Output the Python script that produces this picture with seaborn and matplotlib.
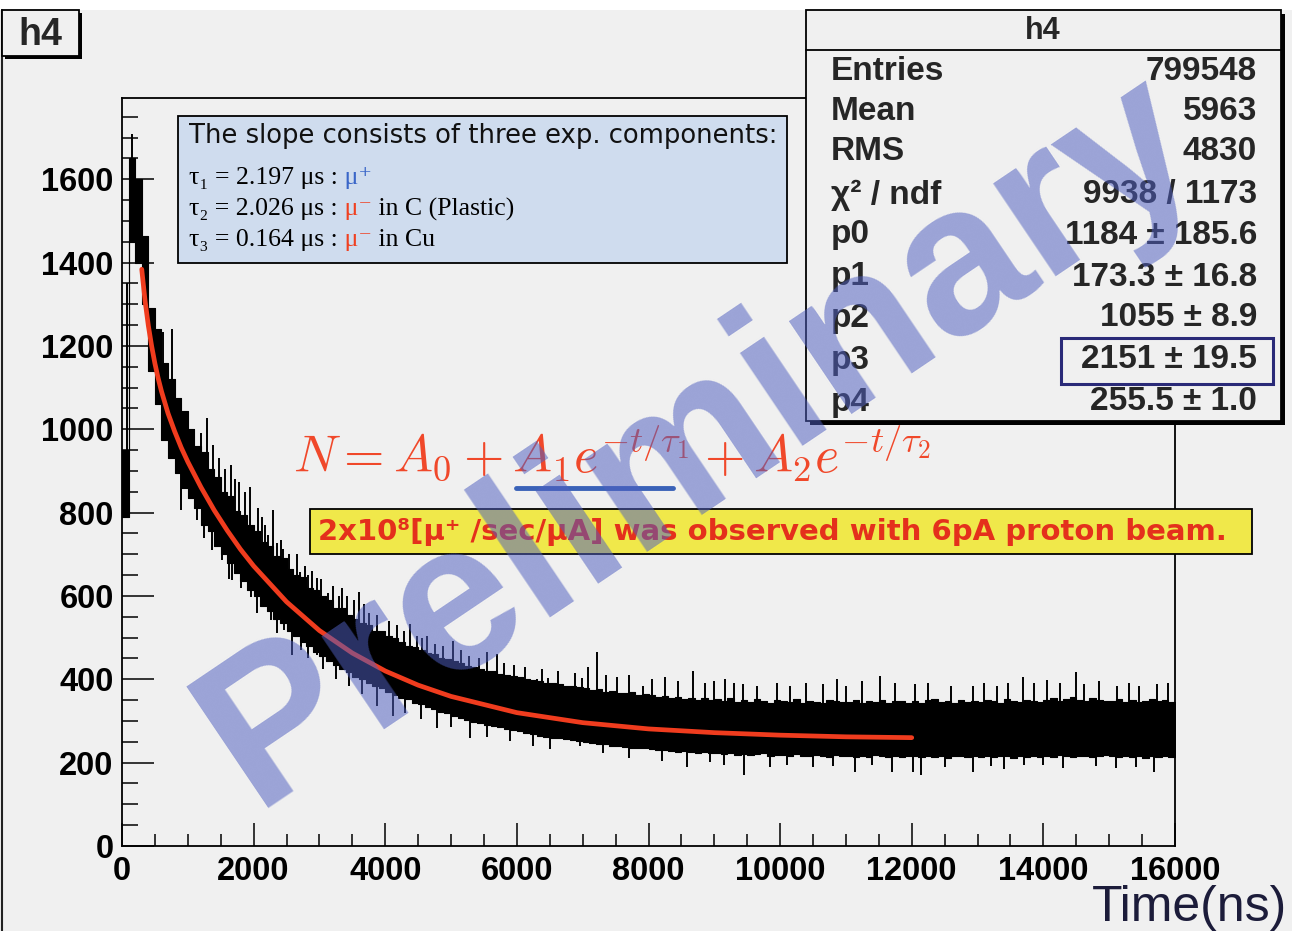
import numpy as np
import pandas as pd
import matplotlib
matplotlib.use("Agg")
import matplotlib.pyplot as plt
import seaborn as sns
from matplotlib.patches import Rectangle
from matplotlib.lines import Line2D
from matplotlib.ticker import MultipleLocator

W, H = 1292, 931

# ------------------------------------------------------------------ data
bin_width = 100  # ns, envelope resolution

core_hi = [
    950, 1650, 1600, 1465, 1290, 1240, 1160, 1120, 1075, 1045,
    1000, 960, 945, 905, 885, 850, 840, 805, 795, 770,
    755, 730, 720, 695, 690, 665, 650, 645, 620, 615,
    600, 590, 570, 570, 555, 545, 535, 530, 515, 515,
    505, 500, 490, 480, 478, 470, 462, 460, 452, 448,
    445, 440, 432, 430, 425, 420, 420, 412, 410, 408,
    405, 400, 398, 395, 392, 392, 388, 385, 385, 382,
    380, 375, 377, 370, 372, 368, 366, 370, 362, 365,
    362, 358, 360, 355, 357, 352, 356, 350, 354, 350,
    352, 348, 355, 346, 350, 345, 352, 347, 344, 350,
    348, 345, 352, 344, 349, 346, 342, 350, 347, 345,
    346, 350, 343, 348, 345, 351, 344, 347, 349, 343,
    347, 344, 350, 352, 345, 348, 343, 351, 346, 349,
    345, 350, 347, 344, 352, 348, 346, 351, 349, 345,
    350, 355, 348, 353, 357, 351, 349, 354, 350, 347,
    348, 352, 346, 350, 345, 349, 353, 347, 351, 346,
]
core_lo = [
    790, 1450, 1400, 1300, 1140, 1060, 975, 930, 895, 860,
    835, 810, 770, 755, 720, 700, 680, 655, 635, 615,
    600, 575, 565, 545, 535, 515, 505, 490, 480, 465,
    455, 445, 435, 425, 418, 405, 400, 392, 385, 378,
    370, 362, 355, 352, 343, 340, 333, 328, 322, 318,
    312, 308, 302, 298, 296, 290, 288, 285, 280, 278,
    275, 270, 268, 265, 262, 260, 258, 256, 254, 252,
    250, 247, 245, 244, 240, 241, 238, 236, 235, 234,
    232, 230, 231, 228, 226, 228, 225, 224, 226, 222,
    222, 220, 223, 219, 221, 218, 220, 222, 217, 219,
    218, 216, 220, 217, 215, 219, 216, 214, 218, 216,
    216, 214, 217, 213, 218, 215, 214, 216, 213, 215,
    215, 213, 217, 214, 216, 212, 215, 217, 213, 216,
    214, 216, 213, 217, 215, 212, 216, 214, 217, 213,
    216, 214, 218, 215, 213, 217, 215, 214, 216, 218,
    215, 213, 216, 214, 217, 212, 215, 213, 216, 214,
]

spike_up_time = [80, 150, 290, 628, 765, 881, 1008, 1100, 1200, 1297, 1388,
                 1480, 1560, 1651, 1720, 1778, 1870, 1945, 2061, 2120, 2170,
                 2223, 2299, 2360, 2420, 2451, 2530, 2603, 2660, 2705, 2780,
                 2831, 2890, 2958, 3020, 3135, 3210, 3290, 3345, 3420, 3520,
                 3606, 3680, 3760, 3880, 4060, 4180, 4290, 4376, 4480, 4560,
                 4630, 4760, 4880, 5034, 5150, 5280, 5420, 5541, 5693, 5800,
                 5950, 6120, 6301, 6380, 6478, 6620, 6880, 6985, 7080, 7213,
                 7350, 7520, 7700, 7921, 8050, 8250, 8450, 8681, 8860, 9000,
                 9163, 9300, 9441, 9650, 9950, 10150, 10400, 10650, 10870,
                 11000, 11250, 11520, 11750, 12050, 12250, 12600, 12930,
                 13100, 13300, 13460, 13690, 13850, 14050, 14250, 14490,
                 14610, 14850, 15120, 15300, 15450, 15730, 15900]
spike_up_value = [1350, 1708, 1545, 1234, 1240, 1066, 1038, 1000, 990, 1026,
                  962, 930, 905, 914, 880, 874, 850, 862, 810, 790, 770,
                  746, 806, 726, 735, 713, 700, 648, 700, 658, 672,
                  650, 660, 642, 640, 606, 625, 600, 618, 600, 590,
                  609, 580, 560, 555, 540, 530, 515, 532, 505, 500,
                  503, 485, 480, 491, 470, 455, 450, 465, 460, 440,
                  435, 430, 400, 425, 404, 420, 415, 404, 430, 465,
                  410, 405, 410, 383, 400, 405, 395, 419, 392, 395,
                  400, 390, 388, 385, 392, 385, 392, 388, 400,
                  385, 395, 407, 390, 388, 392, 385, 383,
                  390, 385, 392, 406, 392, 398, 390, 417,
                  388, 395, 383, 390, 385, 388, 392]

spike_dn_time = [895, 1140, 1250, 1368, 1520, 1620, 1676, 1803, 1955, 2050,
                 2261, 2350, 2464, 2590, 2717, 2820, 2958, 3060, 3250, 3450,
                 3650, 3870, 4123, 4300, 4550, 4782, 5000, 5288, 5550, 5900,
                 6250, 6500, 6960, 7314, 7700, 8200, 8580, 8935, 9150, 9450,
                 9840, 10100, 10500, 10800, 11140, 11400, 11700, 12020, 12140,
                 12500, 12930, 13200, 13400, 13700, 14000, 14300, 14800,
                 15110, 15400, 15680]
spike_dn_value = [806, 782, 740, 710, 686, 640, 638, 619, 598, 560,
                  542, 510, 518, 458, 470, 450, 458, 425, 400, 385,
                  365, 335, 311, 320, 305, 284, 285, 260, 262, 252,
                  239, 232, 239, 224, 210, 205, 190, 202, 195, 171,
                  190, 195, 190, 192, 178, 195, 178, 178, 171,
                  190, 178, 192, 185, 195, 195, 188, 192,
                  188, 190, 178]

fit_time = [300, 350, 400, 450, 500, 550, 600, 700, 800, 900, 1000, 1200,
            1400, 1600, 1800, 2000, 2500, 3000, 3500, 4000, 4500, 5000,
            6000, 7000, 8000, 9000, 10000, 11000, 12000]
fit_value = [1384, 1309, 1249, 1200, 1158, 1122, 1091, 1038, 995, 956, 922,
             861, 806, 757, 712, 672, 586, 517, 463, 420, 386, 359,
             320, 296, 281, 272, 266, 262, 260]

x_ticks = [0, 2000, 4000, 6000, 8000, 10000, 12000, 14000, 16000]
y_ticks = [0, 200, 400, 600, 800, 1000, 1200, 1400, 1600]

stats_labels = ["Entries", "Mean", "RMS", "\u03c7\u00b2 / ndf", "p0", "p1",
                "p2", "p3", "p4"]
stats_values = ["799548", "5963", "4830", "9938 / 1173", "1184 \u00b1 185.6",
                "173.3 \u00b1 16.8", "1055 \u00b1 8.9", "2151 \u00b1 19.5",
                "255.5 \u00b1 1.0"]

# ------------------------------------------------------------------ style
sns.set_theme(style="ticks")
plt.rcParams['font.family'] = ['Liberation Sans', 'DejaVu Sans']
plt.rcParams['mathtext.fontset'] = 'cm'

BG = '#f0f0f0'
fig = plt.figure(figsize=(W / 100, H / 100), dpi=100, facecolor=BG)


def fx(x):
    return x / W


def fy(y):
    return 1 - y / H


def frect(x0, y0, x1, y1, **kw):
    r = Rectangle((fx(x0), fy(y1)), (x1 - x0) / W, (y1 - y0) / H,
                  transform=fig.transFigure, **kw)
    fig.add_artist(r)
    return r


# white strip on top and canvas left border
frect(0, 0, W, 10, facecolor='white', edgecolor='none', zorder=0)
fig.add_artist(Line2D([fx(2), fx(2)], [0, fy(10)], color='#222222', lw=1.5,
                      transform=fig.transFigure))

ax = fig.add_axes([fx(122), fy(846), (1175 - 122) / W, (846 - 98) / H])
ax.set_facecolor(BG)
ax.set_xlim(0, 16000)
ax.set_ylim(0, 1795)

# histogram envelope (steps)
edges = np.arange(0, len(core_hi) * bin_width + 1, bin_width)
hi_s = np.append(core_hi, core_hi[-1])
lo_s = np.append(core_lo, core_lo[-1])
ax.fill_between(edges, lo_s, hi_s, step='post', color='black', lw=0.8,
                zorder=2)

idx_up = (np.array(spike_up_time) // bin_width).astype(int)
ax.vlines(spike_up_time, np.array(core_hi)[idx_up] - 10, spike_up_value,
          color='black', lw=1.4, zorder=2)
idx_dn = (np.array(spike_dn_time) // bin_width).astype(int)
ax.vlines(spike_dn_time, spike_dn_value, np.array(core_lo)[idx_dn] + 10,
          color='black', lw=1.4, zorder=2)

# fit curve
fit_df = pd.DataFrame({'t': fit_time, 'n': fit_value})
sns.lineplot(data=fit_df, x='t', y='n', ax=ax, color='#f03c1e', lw=3.4,
             sort=False, zorder=3)
ax.set_xlabel('')
ax.set_ylabel('')

for s in ax.spines.values():
    s.set_color('black')
    s.set_linewidth(1.3)

ax.set_xticks(x_ticks)
ax.set_yticks(y_ticks)
ax.set_xticklabels([str(v) for v in x_ticks])
ax.set_yticklabels([str(v) for v in y_ticks])
ax.xaxis.set_minor_locator(MultipleLocator(500))
ax.yaxis.set_minor_locator(MultipleLocator(50))
ax.tick_params(axis='both', which='both', direction='in', color='black',
               width=1.1, labelsize=23.5, labelcolor='black',
               top=False, right=False)
ax.tick_params(axis='y', which='major', length=23, pad=6)
ax.tick_params(axis='y', which='minor', length=11.5)
ax.tick_params(axis='x', which='major', length=16.5, pad=7)
ax.tick_params(axis='x', which='minor', length=8.5)
for lbl in ax.get_xticklabels() + ax.get_yticklabels():
    lbl.set_fontweight('bold')

# axis title
fig.text(fx(1287), fy(921), "Time(ns)", ha='right', va='baseline',
         fontsize=36, color='#1c1c3a')

# title box "h4"
frect(5, 13, 82, 59, facecolor='black', edgecolor='none', zorder=5)
frect(2, 10, 79, 56, facecolor=BG, edgecolor='black', lw=1.3, zorder=6)
fig.text(fx(40), fy(35), "h4", ha='center', va='center', fontsize=27,
         fontweight='bold', zorder=7)

# stats box
frect(810, 14, 1285, 425, facecolor='black', edgecolor='none', zorder=5)
frect(806, 10, 1281, 421, facecolor=BG, edgecolor='black', lw=1.3, zorder=6)
fig.add_artist(Line2D([fx(806), fx(1281)], [fy(50), fy(50)], color='black',
                      lw=1.3, transform=fig.transFigure, zorder=7))
fig.text(fx(1043), fy(31), "h4", ha='center', va='center', fontsize=22,
         fontweight='bold', zorder=7)
row_y = [72, 112, 152, 195, 235, 277, 318, 360, 402]
for lab, val, yy in zip(stats_labels, stats_values, row_y):
    fig.text(fx(831), fy(yy), lab, ha='left', va='center', fontsize=24,
             fontweight='bold', zorder=7)
    fig.text(fx(1257), fy(yy), val, ha='right', va='center', fontsize=24,
             fontweight='bold', zorder=7)
frect(1061, 338, 1273, 384, facecolor='none', edgecolor='#2a2a78', lw=2.2,
      zorder=7)

# description box
frect(178, 116, 787, 263, facecolor='#cfdcee', edgecolor='black', lw=1.3,
      zorder=5)
fig.text(fx(189), fy(136), "The slope consists of three exp. components:",
         ha='left', va='center', fontsize=18.6, color='#111111',
         family=['DejaVu Sans'], zorder=6)

renderer = fig.canvas.get_renderer()
BLUE = '#3a66c8'
RED = '#f04020'


def draw_pieces(x0, y, pieces):
    x = x0
    for s, c in pieces:
        t = fig.text(fx(x), fy(y), s, color=c, ha='left', va='center',
                     fontsize=18.5,
                     family=['Liberation Serif', 'DejaVu Serif'], zorder=6)
        x += t.get_window_extent(renderer).width


draw_pieces(189, 178, [("\u03c4\u2081 = 2.197 \u03bcs :", 'black'),
                       (" \u03bc\u207a", BLUE)])
draw_pieces(189, 209, [("\u03c4\u2082 = 2.026 \u03bcs :", 'black'),
                       (" \u03bc\u207b", RED),
                       (" in C (Plastic)", 'black')])
draw_pieces(189, 240, [("\u03c4\u2083 = 0.164 \u03bcs :", 'black'),
                       (" \u03bc\u207b", RED), (" in Cu", 'black')])

# formula
fig.text(fx(293), fy(471),
         r"$N = A_0 + A_1 e^{-t/\tau_1} + A_2 e^{-t/\tau_2}$",
         ha='left', va='baseline', fontsize=37.5, color='#f0482a', zorder=6)
fig.add_artist(Line2D([fx(516), fx(673)], [fy(488), fy(488)],
                      color='#3a62b8', lw=3.5, transform=fig.transFigure,
                      zorder=6))

# yellow note
frect(310, 509, 1252, 554, facecolor='#f0e84a', edgecolor='black', lw=1.3,
      zorder=5)
fig.text(fx(318), fy(532),
         "2x10\u2078[\u03bc\u207a /sec/\u03bcA] was observed with 6pA proton beam.",
         ha='left', va='center', fontsize=21, fontweight='bold',
         family=['DejaVu Sans'], color='#e4301c', zorder=6)

# watermark
fig.text(fx(700), fy(440), "Preliminary", ha='center', va='center',
         rotation=34, rotation_mode='anchor', fontsize=152,
         fontweight='bold', color='#4f5fc0', alpha=0.53, zorder=20)

fig.savefig("out.png", dpi=100, facecolor=BG)
